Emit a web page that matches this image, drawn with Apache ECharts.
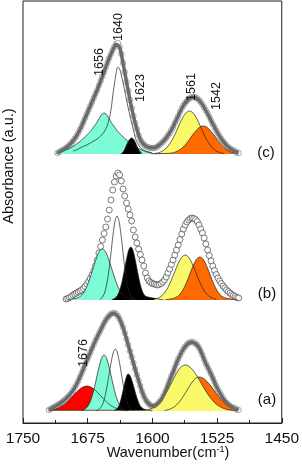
<!DOCTYPE html>
<html><head><meta charset="utf-8">
<script src="https://cdn.jsdelivr.net/npm/echarts@6/dist/echarts.min.js"></script>
<style>html,body{margin:0;padding:0;background:#fff}#c{width:302px;height:464px}</style>
</head><body><div id="c"></div>
<script>
// ---------------- DATA (absorbance in arbitrary units, heights above each trace's baseline) ----------------
const wavenumberTicks = [1750, 1675, 1600, 1525, 1450];
const traceNames = ['(a)', '(b)', '(c)'];
const traceOffsets = [12, 123, 269];          // vertical stacking offsets of traces a, b, c
const peakLabels = ['1656', '1640', '1623', '1561', '1542', '1676'];

// measured spectra (open circles)
const specA = [[1720,1],[1718,2],[1716,3],[1714,4],[1712,5],[1710,6],[1708,7],[1706,8],[1704,9.5],[1702,11],[1700,12.5],[1698,14],[1696,16],[1694,18],[1692,20.5],[1690,23.5],[1688,26.5],[1686,30],[1684,34],[1682,38],[1680,42],[1678,46.5],[1676,50.5],[1674,54.5],[1672,58.5],[1670,62.5],[1668,66.5],[1666,70.5],[1664,74],[1662,77.5],[1660,81],[1658,84.5],[1656,88],[1654,91],[1652,93.5],[1650,95.5],[1648,97],[1646,98],[1644,98],[1642,97],[1640,95],[1638,92],[1636,88],[1634,83.5],[1632,78],[1630,72],[1628,66],[1626,60],[1624,54],[1622,48],[1620,42],[1618,36],[1616,30.5],[1614,25],[1612,19.5],[1610,15],[1608,11.5],[1606,9],[1604,7],[1602,5.5],[1600,4.5],[1598,4.5],[1596,5.5],[1594,7],[1592,9],[1590,11],[1588,14],[1586,17.5],[1584,21.5],[1582,26],[1580,30.5],[1578,35],[1576,39],[1574,43.5],[1572,48],[1570,52],[1568,55.5],[1566,59],[1564,62],[1562,64.5],[1560,66.5],[1558,68],[1556,69],[1554,69],[1552,68.5],[1550,67.5],[1548,66],[1546,63.5],[1544,60],[1542,56],[1540,51.5],[1538,47.5],[1536,44],[1534,40.5],[1532,37],[1530,33],[1528,29],[1526,25],[1524,21.5],[1522,18.5],[1520,15.5],[1518,12.5],[1516,10],[1514,8],[1512,6.5],[1510,5],[1508,4],[1506,3],[1504,2.5],[1502,1.5],[1500,1]];
const specB = [[1700,1],[1698,1.5],[1696,2.5],[1694,3.5],[1692,5],[1690,6],[1688,7],[1686,8],[1684,9],[1682,10],[1680,11.5],[1678,13.5],[1676,16],[1674,18.5],[1672,21.5],[1670,25],[1668,29],[1666,34],[1664,40],[1662,47],[1660,53.5],[1658,60],[1656,66.5],[1654,73],[1652,81],[1650,90],[1648,100],[1646,110],[1644,118],[1642,124],[1640,127],[1638,125],[1636,119],[1634,111],[1632,104],[1630,97],[1628,91],[1626,85],[1624,79],[1622,70],[1620,63],[1618,57],[1616,51],[1614,45.5],[1612,40],[1610,34],[1608,27],[1606,22],[1604,19],[1602,17.5],[1600,16.5],[1598,16],[1596,15.5],[1594,15],[1592,15.5],[1590,16.5],[1588,18],[1586,20],[1584,23],[1582,27],[1580,31],[1578,35.5],[1576,40],[1574,45],[1572,50],[1570,55],[1568,60.5],[1566,66],[1564,71],[1562,75],[1560,78],[1558,80],[1556,81.5],[1554,82],[1552,81.5],[1550,80.5],[1548,78.5],[1546,75],[1544,71],[1542,67],[1540,62],[1538,56],[1536,50],[1534,44.5],[1532,39],[1530,34],[1528,29.5],[1526,25.5],[1524,22],[1522,19],[1520,16.5],[1518,14],[1516,12],[1514,10],[1512,8.5],[1510,7],[1508,5.5],[1506,4.5],[1504,3.5],[1502,2.5],[1500,2]];
const specC = [[1710,1],[1708,2],[1706,3],[1704,4],[1702,5],[1700,6],[1698,7.5],[1696,9],[1694,11],[1692,13],[1690,15.5],[1688,18],[1686,21],[1684,24.5],[1682,28],[1680,32],[1678,36],[1676,40],[1674,44],[1672,48],[1670,52],[1668,56],[1666,60],[1664,64],[1662,68.5],[1660,73],[1658,77.5],[1656,82],[1654,87],[1652,91.5],[1650,96],[1648,100],[1646,104],[1644,107.5],[1642,110],[1640,111],[1638,107],[1636,100],[1634,91],[1632,82],[1630,72],[1628,63],[1626,54],[1624,46],[1622,38],[1620,31],[1618,25],[1616,19],[1614,14.5],[1612,11.5],[1610,9.5],[1608,8],[1606,7],[1604,6.5],[1602,6],[1600,6],[1598,6],[1596,6.5],[1594,7.5],[1592,9],[1590,10.5],[1588,12],[1586,14],[1584,16],[1582,18.5],[1580,21],[1578,24],[1576,27],[1574,31],[1572,34.5],[1570,38],[1568,42],[1566,45.5],[1564,48.5],[1562,51],[1560,53],[1558,55],[1556,56],[1554,57],[1552,57],[1550,56.5],[1548,55.5],[1546,54],[1544,52],[1542,49.5],[1540,46.5],[1538,43.5],[1536,40.5],[1534,37],[1532,33.5],[1530,30],[1528,27],[1526,23.5],[1524,20.5],[1522,17.5],[1520,15],[1518,12.5],[1516,10.5],[1514,8.5],[1512,7],[1510,5.5],[1508,4.5],[1506,3.5],[1504,2.5],[1502,1.5],[1500,1]];

// deconvoluted bands, trace (a)
const bandA_1676 = [[1720,0.6],[1716,1.1],[1712,2.0],[1708,3.4],[1704,5.4],[1700,8.1],[1696,11.5],[1692,15.2],[1688,18.9],[1684,22.1],[1680,24.2],[1676,25],[1672,24.2],[1668,22.1],[1664,18.9],[1660,15.2],[1656,11.5],[1652,8.1],[1648,5.4],[1644,3.4],[1640,2.0],[1636,1.1],[1632,0.6],[1628,0.3]];
const bandA_1656 = [[1682,0.5],[1680,1.0],[1678,2.0],[1676,3.5],[1674,6.0],[1672,9.5],[1670,14.4],[1668,20.7],[1666,28.0],[1664,35.9],[1662,43.6],[1660,50.0],[1658,54.5],[1656,56],[1654,54.5],[1652,50],[1650,43.6],[1648,35.9],[1646,28],[1644,20.7],[1642,14.4],[1640,9.5],[1638,6],[1636,3.5],[1634,2],[1632,1],[1630,0.5]];
const bandA_1643 = [[1665,0.4],[1663,1.0],[1661,2.3],[1659,4.5],[1657,8.4],[1655,14.4],[1653,22.4],[1651,32.4],[1649,42.8],[1647,52.3],[1645,59.5],[1643,62],[1641,59.5],[1639,52.3],[1637,42.8],[1635,32.4],[1633,22.4],[1631,14.4],[1629,8.4],[1627,4.5],[1625,2.3],[1623,1.0],[1621,0.4]];
const bandA_1628 = [[1644,0.5],[1642,1.4],[1640,3.4],[1638,7.1],[1636,12.9],[1634,20.4],[1632,28.2],[1630,34.6],[1628,37],[1626,35.5],[1624,31.2],[1622,25.4],[1620,19.2],[1618,13.4],[1616,8.6],[1614,5.0],[1612,3.2],[1610,2.0],[1608,1.4],[1604,0.7],[1600,0.3]];
const bandA_1562 = [[1720,0.7],[1680,0.7],[1640,0.7],[1614,0.7],[1610,0.8],[1606,1.0],[1602,2.0],[1598,3.7],[1594,6.2],[1590,9.9],[1586,15.0],[1582,21.1],[1578,27.9],[1574,34.7],[1570,40.6],[1566,44.6],[1562,46],[1558,44.9],[1554,41.8],[1550,37.4],[1546,31.7],[1542,25.6],[1538,19.8],[1534,14.7],[1530,10.3],[1526,6.9],[1522,4.5],[1518,2.7],[1514,1.6],[1510,0.9],[1506,0.5],[1502,0.2]];
const bandA_1546 = [[1586,0.5],[1582,1.2],[1578,2.5],[1574,4.6],[1570,7.8],[1566,12.3],[1562,17.7],[1558,23.5],[1554,28.7],[1550,32.6],[1546,34],[1542,33.1],[1538,30.6],[1534,26.9],[1530,22.4],[1526,17.7],[1522,13.3],[1518,9.4],[1514,6.3],[1510,4.0],[1506,2.5],[1502,1.4],[1500,1.0]];

// deconvoluted bands, trace (b)
const bandB_1658 = [[1698,0.5],[1694,0.8],[1690,1.3],[1686,2.4],[1682,4.8],[1678,9.7],[1674,17.8],[1670,28.1],[1666,39],[1662,47.8],[1658,51],[1654,47.8],[1650,39],[1646,28.1],[1642,17.8],[1638,9.7],[1634,4.8],[1630,2.4],[1626,1.3],[1622,0.8],[1618,0.5]];
const bandB_1641 = [[1661,0.7],[1659,1.8],[1657,4],[1655,8.3],[1653,15.4],[1651,25.9],[1649,39.5],[1647,55],[1645,69.5],[1643,80.1],[1641,84],[1639,80.1],[1637,69.5],[1635,55],[1633,39.5],[1631,25.9],[1629,15.4],[1627,8.3],[1625,4],[1623,1.8],[1621,0.7]];
const bandB_1625 = [[1647,0.4],[1645,1],[1643,2.0],[1641,3.9],[1639,7.2],[1637,12.3],[1635,19.1],[1633,27.6],[1631,36.5],[1629,44.8],[1627,50.9],[1625,53],[1623,50.9],[1621,44.8],[1619,36.5],[1617,27.6],[1615,19.1],[1613,12.3],[1611,7.5],[1609,4.8],[1607,3.5],[1603,2.6],[1599,2.0],[1595,1.3],[1591,0.6],[1587,0.2]];
const bandB_1562 = [[1598,0.7],[1594,1.7],[1590,3.6],[1586,7.1],[1582,12.5],[1578,19.9],[1574,28.4],[1570,36.7],[1566,42.7],[1562,45],[1558,42.7],[1554,36.7],[1550,28.4],[1546,19.9],[1542,12.5],[1538,7.1],[1534,3.6],[1530,1.7],[1526,0.7]];
const bandB_1545 = [[1585,0.3],[1581,0.7],[1577,1.3],[1573,2.4],[1569,4.8],[1565,9.4],[1561,16.3],[1557,25],[1553,33.7],[1549,40.5],[1545,43],[1541,40.5],[1537,33.7],[1533,25],[1529,16.3],[1525,9.4],[1521,4.8],[1517,2.6],[1513,1.6],[1509,1.0],[1505,0.5],[1501,0.2]];

// deconvoluted bands, trace (c)
const bandC_1656 = [[1712,0.5],[1708,1.5],[1704,2.5],[1700,4],[1696,5.5],[1692,7.5],[1688,10],[1684,12.5],[1680,15.5],[1676,19],[1672,22.5],[1668,27],[1664,32],[1660,38],[1656,41],[1652,38],[1648,32],[1644,27],[1640,22.5],[1636,19],[1632,15.5],[1628,12.5],[1624,10],[1620,7.5],[1616,5.5],[1612,4],[1608,2.5],[1604,1.5],[1600,0.5]];
const bandC_1640 = [[1692,3],[1688,4],[1684,6],[1680,7.5],[1676,9],[1672,11],[1668,13],[1664,15],[1660,18],[1656,22],[1652,29],[1648,44],[1646,58],[1644,70],[1642,81],[1640,87],[1638,85],[1636,79],[1634,71],[1632,63],[1630,54],[1628,46],[1626,38],[1624,31],[1622,24],[1620,17],[1618,12],[1616,9],[1614,6.5],[1612,5],[1608,3],[1604,2],[1600,1]];
const bandC_1623 = [[1636,0.5],[1634,2],[1632,5],[1630,9],[1628,12.5],[1626,15],[1624,16],[1622,15],[1620,12],[1618,8],[1616,4.5],[1614,2],[1612,0.5]];
const bandC_1561 = [[1597,0.5],[1593,1.2],[1589,2.6],[1585,5],[1581,8.9],[1577,14.3],[1573,21.2],[1569,29],[1565,36.2],[1561,41.1],[1557,43],[1553,41.1],[1549,36.2],[1545,29],[1541,21.2],[1537,14.3],[1533,8.9],[1529,5],[1525,2.6],[1521,1.2],[1517,0.5]];
const bandC_1542 = [[1601,0.3],[1589,0.4],[1581,0.6],[1577,1.0],[1573,2.1],[1569,3.8],[1565,6.4],[1561,10.1],[1557,14.6],[1553,19.5],[1549,23.6],[1545,26.9],[1541,28],[1537,26.9],[1533,23.6],[1529,19.5],[1525,14.6],[1521,10.1],[1517,6.4],[1513,3.8],[1509,2.1],[1505,1.0],[1501,0.5]];

// ---------------- STYLE / LAYOUT ----------------
const FONT = '"Liberation Sans", Arial, sans-serif';
const COL = {red:'#FF0000', cyan:'#7DFBD6', black:'#000000', yellow:'#F9F96A', orange:'#FF6A00'};
const EDGE = '#222';

function shift(arr, off){ return arr.map(p => [p[0], p[1] + off]); }
const series = [];
function fill(band, color, off){
  series.push({type:'line', data: shift(band, off), smooth:0.35, symbol:'none', silent:true,
    lineStyle:{width:0, opacity:0}, areaStyle:{color:color, opacity:1, origin:off}});
}
function outline(band, off){
  series.push({type:'line', data: shift(band, off), smooth:0.35, symbol:'none', silent:true,
    lineStyle:{color:EDGE, width:0.7}});
}
function measured(spec, off, withFit, size){
  if (withFit) series.push({type:'line', data: shift(spec, off), symbol:'none', silent:true,
    lineStyle:{color:'#6a6a6a', width:3.5}});
  series.push({type:'scatter', data: shift(spec, off), symbol:'circle', symbolSize:size, silent:true,
    itemStyle:{color:'#fff', borderColor: withFit ? '#555' : '#333', borderWidth: withFit ? 0.6 : 0.8}});
}

// trace (a)
let o = traceOffsets[0];
fill(bandA_1676, COL.red, o); fill(bandA_1656, COL.cyan, o); fill(bandA_1628, COL.black, o);
fill(bandA_1546, COL.orange, o); outline(bandA_1546, o); fill(bandA_1562, COL.yellow, o);
[bandA_1676, bandA_1656, bandA_1643, bandA_1628, bandA_1562].forEach(b => outline(b, o));
measured(specA, o, true, 5.5);
// trace (b)
o = traceOffsets[1];
outline(bandB_1641, o);
fill(bandB_1658, COL.cyan, o); outline(bandB_1658, o);
fill(bandB_1625, COL.black, o); outline(bandB_1625, o);
fill(bandB_1562, COL.yellow, o); outline(bandB_1562, o);
fill(bandB_1545, COL.orange, o); outline(bandB_1545, o);
measured(specB, o, false, 6);
// trace (c)
o = traceOffsets[2];
fill(bandC_1656, COL.cyan, o); fill(bandC_1623, COL.black, o);
fill(bandC_1561, COL.yellow, o); outline(bandC_1561, o); fill(bandC_1542, COL.orange, o);
[bandC_1656, bandC_1640, bandC_1623, bandC_1542].forEach(b => outline(b, o));
measured(specC, o, true, 5.5);

// annotation positions (pixels)
const peakLabelPos = [[100,62],[119,27],[141,88],[192,87],[217,96],[84,353]];
const traceLabelPos = [[267,400],[267,294],[266,153]];
const graphic = [];
peakLabels.forEach((t, i) => graphic.push({type:'text', z:100, x:peakLabelPos[i][0], y:peakLabelPos[i][1], rotation:Math.PI/2,
  style:{text:t, font:'12.5px ' + FONT, fill:'#111', align:'center', verticalAlign:'middle'}}));
traceNames.forEach((t, i) => graphic.push({type:'text', z:100, x:traceLabelPos[i][0], y:traceLabelPos[i][1],
  style:{text:t, font:'15px ' + FONT, fill:'#111', align:'center', verticalAlign:'middle'}}));
graphic.push({type:'text', z:100, x:9, y:166, rotation:Math.PI/2,
  style:{text:'Absorbance (a.u.)', font:'14.5px ' + FONT, fill:'#111', align:'center', verticalAlign:'middle'}});
graphic.push({type:'text', z:100, x:168, y:453,
  style:{text:'Wavenumber(cm{s|-1})', font:'14.5px ' + FONT, fill:'#111', align:'center', verticalAlign:'middle',
    rich:{s:{fontSize:9, fontFamily:FONT, verticalAlign:'top', fill:'#111'}}}});

const chart = echarts.init(document.getElementById('c'), null, {renderer:'canvas'});
chart.setOption({
  animation:false,
  backgroundColor:'#fff',
  grid:{left:23, right:17, top:1, bottom:41, show:true, borderColor:EDGE, borderWidth:1, backgroundColor:'transparent'},
  xAxis:{type:'value', min:wavenumberTicks[wavenumberTicks.length-1], max:wavenumberTicks[0], interval:75, inverse:true,
    axisLine:{show:true, lineStyle:{color:EDGE, width:1}},
    axisTick:{show:true, inside:true, length:5, lineStyle:{color:EDGE}},
    minorTick:{show:true, splitNumber:2, length:3, lineStyle:{color:EDGE}},
    axisLabel:{fontSize:15.5, fontFamily:FONT, color:'#111', margin:8, formatter: v => String(v)},
    splitLine:{show:false}},
  yAxis:{type:'value', min:0, max:422, show:true, axisLine:{show:false}, axisTick:{show:false}, axisLabel:{show:false}, splitLine:{show:false}},
  series: series,
  graphic: graphic
});
</script></body></html>
